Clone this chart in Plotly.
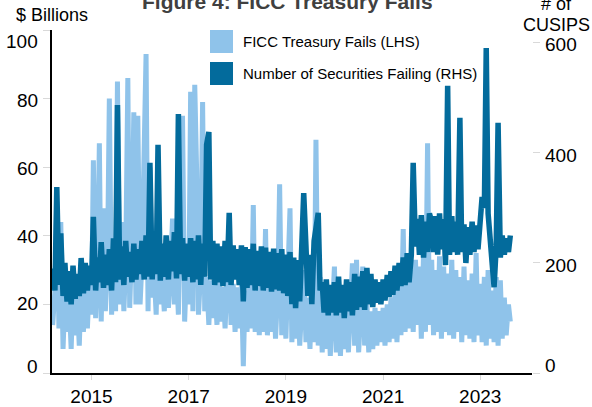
import pandas as pd
import plotly.graph_objects as go

# semi-monthly observations, mid-March 2014 to mid-August 2023
start_date = '2014-03-15'

# FICC Treasury fails, $ billions (LHS)
fails_lhs = [
    # 2014
    14, 24, 50, 13, 44, 7, 22, 12, 23, 7, 24, 11, 22, 8, 24, 12, 25, 13, 26,
    # 2015
    17, 62, 16, 30, 67, 15, 48, 18, 32, 80, 17, 35, 18, 85, 20, 44, 18, 32, 86, 19, 40, 76, 20, 75,
    # 2016
    20, 32, 72, 93, 18, 60, 22, 30, 17, 43, 20, 29, 18, 30, 19, 28, 45, 20, 30, 17, 55, 75, 15, 30,
    # 2017
    20, 82, 18, 84, 59, 17, 30, 79, 18, 28, 14, 27, 16, 26, 14, 28, 15, 25, 13, 27, 34, 14, 26, 12,
    # 2018
    25, 13, 26, 2, 24, 12, 26, 13, 49, 12, 25, 11, 27, 12, 42, 11, 25, 12, 26, 10, 24, 55, 11, 24,
    # 2019
    10, 24, 48, 9, 23, 10, 25, 8, 24, 30, 9, 22, 7, 23, 9, 68, 8, 28, 6, 21, 7, 20, 5, 19,
    # 2020
    31, 6, 20, 5, 19, 7, 18, 6, 21, 32, 8, 33, 6, 20, 31, 8, 20, 6, 18, 7, 19, 8, 18, 9,
    # 2021
    19, 8, 20, 9, 22, 10, 24, 9, 26, 11, 42, 12, 28, 13, 30, 12, 33, 14, 31, 10, 35, 12, 67, 14,
    # 2022
    33, 11, 30, 12, 34, 10, 31, 12, 29, 11, 33, 10, 30, 12, 28, 9, 31, 11, 27, 10, 29, 9, 35, 11,
    # 2023
    26, 9, 28, 8, 30, 10, 24, 9, 28, 8, 27, 10, 22, 11, 20, 15,
]

# number of securities (CUSIPs) failing (RHS)
cusips_rhs = [
    # 2014
    190, 150, 338, 160, 254, 140, 200, 130, 185, 125, 195, 135, 180, 140, 209, 145, 200, 150, 195,
    # 2015
    160, 284, 150, 210, 165, 238, 155, 215, 160, 225, 150, 245, 165, 487, 170, 230, 160, 240, 175, 220, 165, 235, 170, 225,
    # 2016
    180, 240, 170, 250, 175, 382, 170, 245, 180, 415, 168, 235, 175, 250, 170, 240, 185, 256, 172, 471, 180, 245, 168, 235,
    # 2017
    175, 245, 165, 240, 170, 250, 160, 235, 175, 415, 438, 170, 240, 160, 235, 165, 230, 158, 240, 165, 291, 160, 232, 170,
    # 2018
    225, 160, 232, 130, 229, 155, 225, 160, 235, 150, 222, 158, 230, 150, 228, 155, 220, 148, 226, 152, 218, 150, 225, 145,
    # 2019
    215, 140, 220, 125, 210, 118, 205, 130, 250, 327, 230, 140, 215, 125, 240, 270, 291, 150, 165, 110, 170, 105, 160, 110,
    # 2020
    165, 105, 175, 110, 160, 100, 170, 112, 165, 105, 180, 115, 175, 120, 185, 115, 191, 125, 180, 120, 170, 128, 165, 125,
    # 2021
    170, 132, 178, 138, 185, 142, 195, 150, 200, 158, 210, 160, 218, 165, 215, 382, 230, 280, 215, 287, 210, 275, 220, 290,
    # 2022
    275, 220, 285, 215, 290, 225, 280, 196, 522, 215, 285, 220, 275, 215, 464, 220, 270, 200, 265, 215, 275, 220, 268, 225,
    # 2023
    280, 320, 300, 591, 290, 240, 200, 156, 230, 455, 210, 250, 215, 245, 220, 250,
]

year_ticks = ['2015-01-01', '2017-01-01', '2019-01-01', '2021-01-01', '2023-01-01']
year_labels = ['2015', '2017', '2019', '2021', '2023']
lhs_ticks = [0, 20, 40, 60, 80, 100]
rhs_ticks = [0, 200, 400, 600]

dates = pd.date_range(start_date, periods=len(fails_lhs), freq='SMS')

LIGHT = '#8fc3ea'
DARK = '#036b9c'
FONT = 'Liberation Sans, Arial, sans-serif'

# plot area in pixels: x 52..532, y 30..373
PLOT_TOP, PLOT_BOTTOM = 30, 373


def py(pixel_y):
    """pixel row -> paper y"""
    return (PLOT_BOTTOM - pixel_y) / (PLOT_BOTTOM - PLOT_TOP)


fig = go.Figure()

fig.add_trace(go.Scatter(
    x=dates, y=fails_lhs, mode='lines', name='FICC Treasury Fails (LHS)',
    line=dict(color=LIGHT, width=5), yaxis='y1', showlegend=False
))
fig.add_trace(go.Scatter(
    x=dates, y=cusips_rhs, mode='lines', name='Number of Securities Failing (RHS)',
    line=dict(color=DARK, width=5.5), yaxis='y2', showlegend=False
))

fig.update_layout(
    width=592, height=407,
    margin=dict(l=52, r=60, t=PLOT_TOP, b=407 - PLOT_BOTTOM, autoexpand=False),
    paper_bgcolor='white', plot_bgcolor='white',
    font=dict(family=FONT, size=19, color='black'),
    xaxis=dict(
        range=['2014-03-10', '2024-01-25'],
        tickvals=year_ticks, ticktext=year_labels,
        showline=True, linecolor='black', linewidth=1.5,
        ticks='outside', ticklen=5, tickcolor='#d9d9d9',
        showgrid=False, zeroline=False
    ),
    yaxis=dict(
        range=[0, 100], tickvals=lhs_ticks, showticklabels=False,
        showline=True, linecolor='black', linewidth=1.5,
        ticks='outside', ticklen=7, tickcolor='#d9d9d9',
        showgrid=False, zeroline=False
    ),
    yaxis2=dict(
        range=[0, 623.6], tickvals=rhs_ticks, showticklabels=False,
        overlaying='y', side='right', anchor='x',
        showline=False, ticks='outside', ticklen=7, tickcolor='#d9d9d9',
        showgrid=False, zeroline=False
    ),
)

# value labels of the two y axes (the outer ones sit nudged inwards, as in the original)
lhs_label_rows = [366, 303, 236, 168, 100, 42]
for val, row in zip(lhs_ticks, lhs_label_rows):
    fig.add_annotation(text=str(val), xref='paper', yref='paper', x=-0.025, y=py(row),
                       xanchor='right', yanchor='middle', showarrow=False)
rhs_label_rows = [365, 265, 155, 44]
for val, row in zip(rhs_ticks, rhs_label_rows):
    fig.add_annotation(text=str(val), xref='paper', yref='paper', x=1.0229, y=py(row),
                       xanchor='left', yanchor='middle', showarrow=False)

# title and axis captions
fig.add_annotation(text='<b>Figure 4: FICC Treasury Fails</b>', xref='paper', yref='paper',
                   x=0.49, y=py(1), xanchor='center', yanchor='middle', showarrow=False,
                   font=dict(size=21, color='#404040'))
fig.add_annotation(text='$ Billions', xref='paper', yref='paper',
                   x=0.0, y=py(15), xanchor='center', yanchor='middle', showarrow=False,
                   font=dict(size=18))
fig.add_annotation(text='# of', xref='paper', yref='paper',
                   x=1.05, y=py(4), xanchor='center', yanchor='middle', showarrow=False,
                   font=dict(size=18))
fig.add_annotation(text='CUSIPS', xref='paper', yref='paper',
                   x=1.05, y=py(25), xanchor='center', yanchor='middle', showarrow=False,
                   font=dict(size=18))

# legend drawn by hand: big square swatches
legend_items = [('FICC Treasury Fails (LHS)', LIGHT, 30), ('Number of Securities Failing (RHS)', DARK, 62)]
for label, color, row in legend_items:
    fig.add_shape(type='rect', xref='paper', yref='paper',
                  x0=0.3292, x1=0.3771, y0=py(row + 23), y1=py(row),
                  fillcolor=color, line=dict(width=0))
    fig.add_annotation(text=label, xref='paper', yref='paper',
                       x=0.394, y=py(row + 11.5), xanchor='left', yanchor='middle',
                       showarrow=False, font=dict(size=15))

fig.write_html("out.html", config={'displayModeBar': False},
               post_script="document.body.style.margin='0';")
